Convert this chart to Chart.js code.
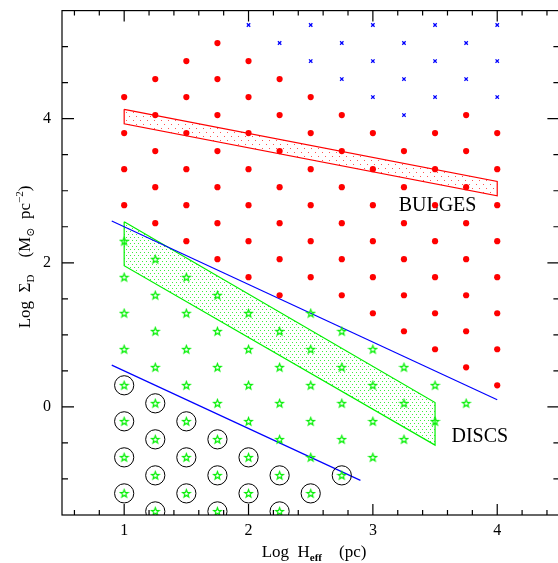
<!DOCTYPE html>
<html>
<head>
<meta charset="utf-8">
<script src="https://cdn.jsdelivr.net/npm/chart.js@4"></script>
<style>
  html, body { margin: 0; padding: 0; background: #fff; overflow: hidden; }
  #wrap { width: 558px; height: 563px; overflow: hidden; }
</style>
</head>
<body>
<div id="wrap"><canvas id="chart" width="570" height="563"></canvas></div>
<script>
// grid of models: [log H, [log Sigma values]]
const blueCols = [
    [2, [5.3]],
    [2.25, [5.05]],
    [2.5, [5.3, 4.8]],
    [2.75, [5.05, 4.55]],
    [3, [5.3, 4.8, 4.3]],
    [3.25, [5.05, 4.55, 4.05]],
    [3.5, [5.3, 4.8, 4.3]],
    [3.75, [5.05, 4.55]],
    [4, [5.3, 4.8, 4.3]]
];
const redCols = [
    [1, [4.3, 3.8, 3.3, 2.8]],
    [1.25, [4.55, 4.05, 3.55, 3.05, 2.55]],
    [1.5, [4.8, 4.3, 3.8, 3.3, 2.8, 2.3]],
    [1.75, [5.05, 4.55, 4.05, 3.55, 3.05, 2.55, 2.05]],
    [2, [4.8, 4.3, 3.8, 3.3, 2.8, 2.3, 1.8]],
    [2.25, [4.55, 4.05, 3.55, 3.05, 2.55, 2.05, 1.55]],
    [2.5, [4.3, 3.8, 3.3, 2.8, 2.3, 1.8]],
    [2.75, [4.05, 3.55, 3.05, 2.55, 2.05, 1.55]],
    [3, [3.8, 3.3, 2.8, 2.3, 1.8, 1.3]],
    [3.25, [3.55, 3.05, 2.55, 2.05, 1.55, 1.05]],
    [3.5, [3.8, 3.3, 2.8, 2.3, 1.8, 1.3, 0.8]],
    [3.75, [4.05, 3.55, 3.05, 2.55, 2.05, 1.55, 1.05, 0.55]],
    [4, [3.8, 3.3, 2.8, 2.3, 1.8, 1.3, 0.8, 0.3]]
];
const starCols = [
    [1, [2.3, 1.8, 1.3, 0.8, 0.3, -0.2, -0.7, -1.2]],
    [1.25, [2.05, 1.55, 1.05, 0.55, 0.05, -0.45, -0.95, -1.45]],
    [1.5, [1.8, 1.3, 0.8, 0.3, -0.2, -0.7, -1.2]],
    [1.75, [1.55, 1.05, 0.55, 0.05, -0.45, -0.95, -1.45]],
    [2, [1.3, 0.8, 0.3, -0.2, -0.7, -1.2]],
    [2.25, [1.05, 0.55, 0.05, -0.45, -0.95, -1.45]],
    [2.5, [1.3, 0.8, 0.3, -0.2, -0.7, -1.2]],
    [2.75, [1.05, 0.55, 0.05, -0.45, -0.95]],
    [3, [0.8, 0.3, -0.2, -0.7]],
    [3.25, [0.55, 0.05, -0.45]],
    [3.5, [0.3, -0.2]],
    [3.75, [0.05]]
];
// stars that are circled
const ringCols = [
    [1, [0.3, -0.2, -0.7, -1.2]],
    [1.25, [0.05, -0.45, -0.95, -1.45]],
    [1.5, [-0.2, -0.7, -1.2]],
    [1.75, [-0.45, -0.95, -1.45]],
    [2, [-0.7, -1.2]],
    [2.25, [-0.95, -1.45]],
    [2.5, [-1.2]],
    [2.75, [-0.95]]
];
const bulgeBand = [[1, 4.13], [4, 3.13], [4, 2.93], [1, 3.93], [1, 4.13]];
const discBand = [[1, 2.57], [3.5, 0.06], [3.5, -0.53], [1, 1.96], [1, 2.57]];
const upperLine = [[0.9, 2.58], [4, 0.1]];
const lowerLine = [[0.9, 0.58], [2.9, -1.02]];

const xTicks = [1, 2, 3, 4];
const yTicks = [0, 2, 4];
const xMinorStep = 0.2;
const yMinorStep = 0.5;

const FONT = '"Liberation Serif", "DejaVu Serif", serif';

function colsToPoints(cols) {
    const pts = [];
    cols.forEach(c => c[1].forEach(y => pts.push({x: c[0], y: y})));
    return pts;
}
function pairsToPoints(pairs) {
    return pairs.map(p => ({x: p[0], y: p[1]}));
}

// dotted hatch pattern
function makeDots(color, w, h) {
    const c = document.createElement('canvas');
    c.width = w;
    c.height = h;
    const g = c.getContext('2d');
    g.fillStyle = color;
    g.fillRect(0, 0, 1, 1);
    g.fillRect(Math.floor(w / 2), Math.floor(h / 2), 1, 1);
    return document.getElementById('chart').getContext('2d').createPattern(c, 'repeat');
}

// open five-pointed star marker
function makeStar(color) {
    const c = document.createElement('canvas');
    c.width = 11;
    c.height = 11;
    const g = c.getContext('2d');
    g.strokeStyle = color;
    g.lineWidth = 1.2;
    g.beginPath();
    for (let i = 0; i < 10; i++) {
        const r = i % 2 === 0 ? 4 : 1.7;
        const a = -Math.PI / 2 + i * Math.PI / 5;
        const px = 5.5 + r * Math.cos(a);
        const py = 5.8 + r * Math.sin(a);
        if (i === 0) g.moveTo(px, py); else g.lineTo(px, py);
    }
    g.closePath();
    g.stroke();
    return c;
}

function richWidth(ctx, parts) {
    let w = 0;
    parts.forEach(p => {
        ctx.font = (p.bold ? 'bold ' : '') + p.size + 'px ' + FONT;
        w += ctx.measureText(p.t).width;
    });
    return w;
}
function drawRich(ctx, parts, cx, y) {
    let x = cx - richWidth(ctx, parts) / 2;
    parts.forEach(p => {
        ctx.font = (p.bold ? 'bold ' : '') + p.size + 'px ' + FONT;
        ctx.fillText(p.t, x, y + (p.dy || 0));
        x += ctx.measureText(p.t).width;
    });
}

const framePlugin = {
    id: 'frame',
    afterDraw(chart) {
        const ctx = chart.ctx;
        const a = chart.chartArea;
        const xs = chart.scales.x;
        const ys = chart.scales.y;
        ctx.save();
        ctx.strokeStyle = '#000';
        ctx.lineWidth = 1.2;
        ctx.strokeRect(a.left, a.top, a.right - a.left, a.bottom - a.top);

        ctx.beginPath();
        for (let v = 0.6; v < 4.5; v += xMinorStep) {
            const px = xs.getPixelForValue(v);
            const major = Math.abs(v - Math.round(v)) < 0.01;
            const len = major ? 11 : 5;
            ctx.moveTo(px, a.bottom); ctx.lineTo(px, a.bottom - len);
            ctx.moveTo(px, a.top); ctx.lineTo(px, a.top + len);
        }
        for (let v = -1; v < 5.5; v += yMinorStep) {
            const py = ys.getPixelForValue(v);
            const major = Math.abs(v / 2 - Math.round(v / 2)) < 0.01;
            const len = major ? 12 : 6;
            ctx.moveTo(a.left, py); ctx.lineTo(a.left + len, py);
            ctx.moveTo(a.right, py); ctx.lineTo(a.right - len, py);
        }
        ctx.stroke();

        ctx.fillStyle = '#000';
        ctx.font = '16px ' + FONT;
        ctx.textAlign = 'center';
        ctx.textBaseline = 'middle';
        xTicks.forEach(v => ctx.fillText(String(v), xs.getPixelForValue(v), a.bottom + 16));
        yTicks.forEach(v => ctx.fillText(String(v), a.left - 15, ys.getPixelForValue(v)));

        ctx.textAlign = 'left';
        ctx.textBaseline = 'alphabetic';
        drawRich(ctx, [
            {t: 'Log  H', size: 17},
            {t: 'eff', size: 11, dy: 4, bold: true},
            {t: '    (pc)', size: 17}
        ], 314, 557);

        ctx.save();
        ctx.translate(30, 257);
        ctx.rotate(-Math.PI / 2);
        drawRich(ctx, [
            {t: 'Log  \u03A3', size: 17},
            {t: 'D', size: 11, dy: 4},
            {t: '    (M', size: 17},
            {t: '\u2299', size: 11, dy: 4},
            {t: '  pc', size: 17},
            {t: '\u22122', size: 11, dy: -7},
            {t: ')', size: 17}
        ], 0, 0);
        ctx.restore();

        ctx.font = '20px ' + FONT;
        ctx.textAlign = 'center';
        ctx.textBaseline = 'middle';
        ctx.fillText('BULGES', xs.getPixelForValue(3.52), ys.getPixelForValue(2.79));
        ctx.fillText('DISCS', xs.getPixelForValue(3.86), ys.getPixelForValue(-0.41));
        ctx.restore();
    }
};

const ctx = document.getElementById('chart').getContext('2d');
new Chart(ctx, {
    type: 'scatter',
    data: {
        datasets: [
            {
                data: colsToPoints(blueCols),
                pointStyle: 'crossRot',
                pointRadius: 2.4,
                borderColor: '#0000ff',
                borderWidth: 1.3,
                order: 1
            },
            {
                data: colsToPoints(redCols),
                pointStyle: 'circle',
                pointRadius: 3.1,
                backgroundColor: '#ff0000',
                borderColor: '#ff0000',
                borderWidth: 0,
                order: 1
            },
            {
                data: colsToPoints(starCols),
                pointStyle: makeStar('#00f000'),
                order: 2
            },
            {
                data: colsToPoints(ringCols),
                pointStyle: 'circle',
                pointRadius: 9.6,
                backgroundColor: 'rgba(0,0,0,0)',
                borderColor: '#000',
                borderWidth: 1,
                order: 3
            },
            {
                data: pairsToPoints(upperLine),
                showLine: true,
                pointRadius: 0,
                borderColor: '#0000ff',
                borderWidth: 1.2,
                order: 4
            },
            {
                data: pairsToPoints(lowerLine),
                showLine: true,
                pointRadius: 0,
                borderColor: '#0000ff',
                borderWidth: 1.2,
                order: 4
            },
            {
                data: pairsToPoints(bulgeBand),
                showLine: true,
                pointRadius: 0,
                borderColor: '#ff0000',
                borderWidth: 1.2,
                backgroundColor: makeDots('rgba(255,40,40,0.8)', 7, 8),
                fill: 'shape',
                order: 5
            },
            {
                data: pairsToPoints(discBand),
                showLine: true,
                pointRadius: 0,
                borderColor: '#00f000',
                borderWidth: 1.2,
                backgroundColor: makeDots('rgba(0,230,0,0.75)', 4, 6),
                fill: 'shape',
                order: 5
            }
        ]
    },
    options: {
        responsive: false,
        animation: false,
        layout: {padding: {left: 62, top: 8, right: 2.5, bottom: 48}},
        scales: {
            x: {type: 'linear', min: 0.5, max: 4.5, display: false},
            y: {type: 'linear', min: -1.5, max: 5.5, display: false}
        },
        plugins: {
            legend: {display: false},
            tooltip: {enabled: false}
        }
    },
    plugins: [framePlugin]
});
</script>
</body>
</html>
